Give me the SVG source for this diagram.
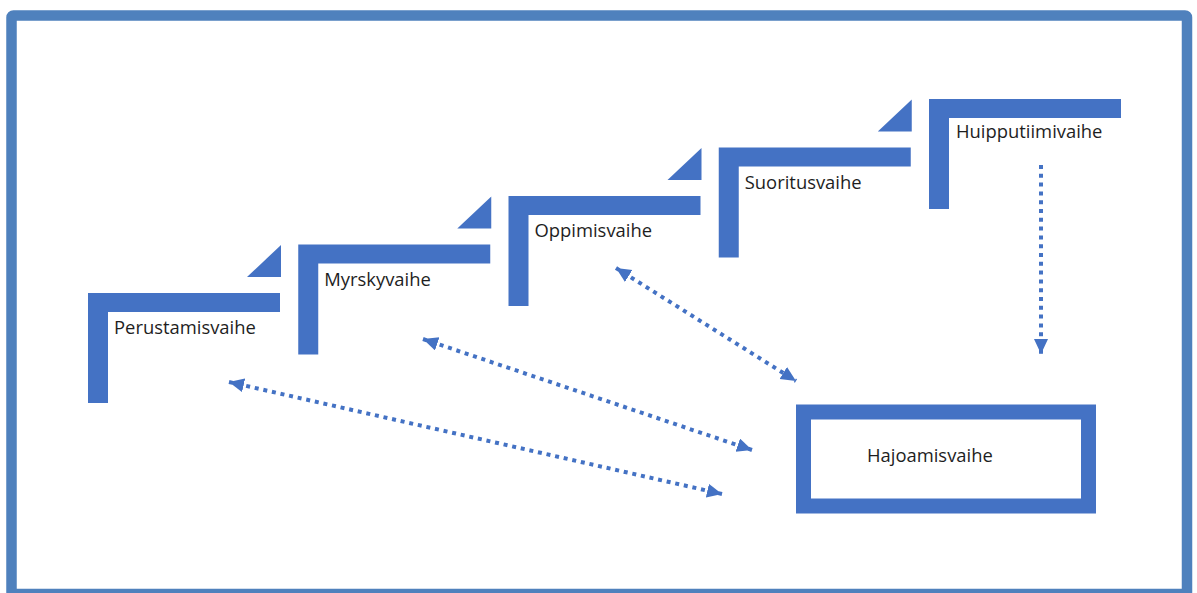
<svg xmlns="http://www.w3.org/2000/svg" width="1197" height="593" viewBox="0 0 1197 593">
  <style>
    .step { fill: #4472C4; }
    .label { font-family: "Open Sans", "Liberation Sans", sans-serif; font-size: 18.4px; fill: #1e1e1e; }
    .link { fill: none; stroke: #4472C4; stroke-width: 4; stroke-dasharray: 4 4.8; }
  </style>
  <defs>
    <marker id="head" markerUnits="userSpaceOnUse" markerWidth="18" markerHeight="16" refX="15" refY="7" orient="auto-start-reverse">
      <path d="M0,0 L15,7 L0,14 z" fill="#4472C4"/>
    </marker>
    <!-- one stair step: horizontal tread with a vertical riser on its left -->
    <path id="stair" d="M0,0 H192 V19 H20 V110 H0 z"/>
    <!-- small corner wedge sitting above the right end of a tread -->
    <path id="wedge" d="M193,-48 V-16 H159 z"/>
  </defs>

  <rect x="0" y="0" width="1197" height="593" fill="#ffffff"/>
  <!-- outer frame -->
  <rect x="11.5" y="15.5" width="1175.5" height="578.5" rx="2" fill="none" stroke="#4F81BD" stroke-width="10.5"/>

  <g id="perustamisvaihe" transform="translate(88,293)">
    <use href="#stair" class="step"/>
    <use href="#wedge" class="step"/>
    <text class="label" x="26" y="41">Perustamisvaihe</text>
  </g>
  <g id="myrskyvaihe" transform="translate(298.25,244.5)">
    <use href="#stair" class="step"/>
    <use href="#wedge" class="step"/>
    <text class="label" x="26" y="41">Myrskyvaihe</text>
  </g>
  <g id="oppimisvaihe" transform="translate(508.5,196)">
    <use href="#stair" class="step"/>
    <use href="#wedge" class="step"/>
    <text class="label" x="26" y="41">Oppimisvaihe</text>
  </g>
  <g id="suoritusvaihe" transform="translate(718.75,147.5)">
    <use href="#stair" class="step"/>
    <use href="#wedge" class="step"/>
    <text class="label" x="26" y="41">Suoritusvaihe</text>
  </g>
  <g id="huipputiimivaihe" transform="translate(929,99)">
    <use href="#stair" class="step"/>
    <text class="label" x="27" y="39">Huipputiimivaihe</text>
  </g>

  <g id="hajoamisvaihe">
    <rect x="803.5" y="412" width="285" height="94" fill="#ffffff" stroke="#4472C4" stroke-width="15"/>
    <text class="label" x="867" y="462">Hajoamisvaihe</text>
  </g>

  <g id="connectors">
    <line class="link" x1="229" y1="382" x2="722" y2="494" marker-start="url(#head)" marker-end="url(#head)"/>
    <line class="link" x1="423" y1="339" x2="752" y2="450" marker-start="url(#head)" marker-end="url(#head)"/>
    <line class="link" x1="616" y1="268" x2="796" y2="381" marker-start="url(#head)" marker-end="url(#head)"/>
    <line class="link" x1="1041" y1="165" x2="1041" y2="354" marker-end="url(#head)"/>
  </g>
</svg>
